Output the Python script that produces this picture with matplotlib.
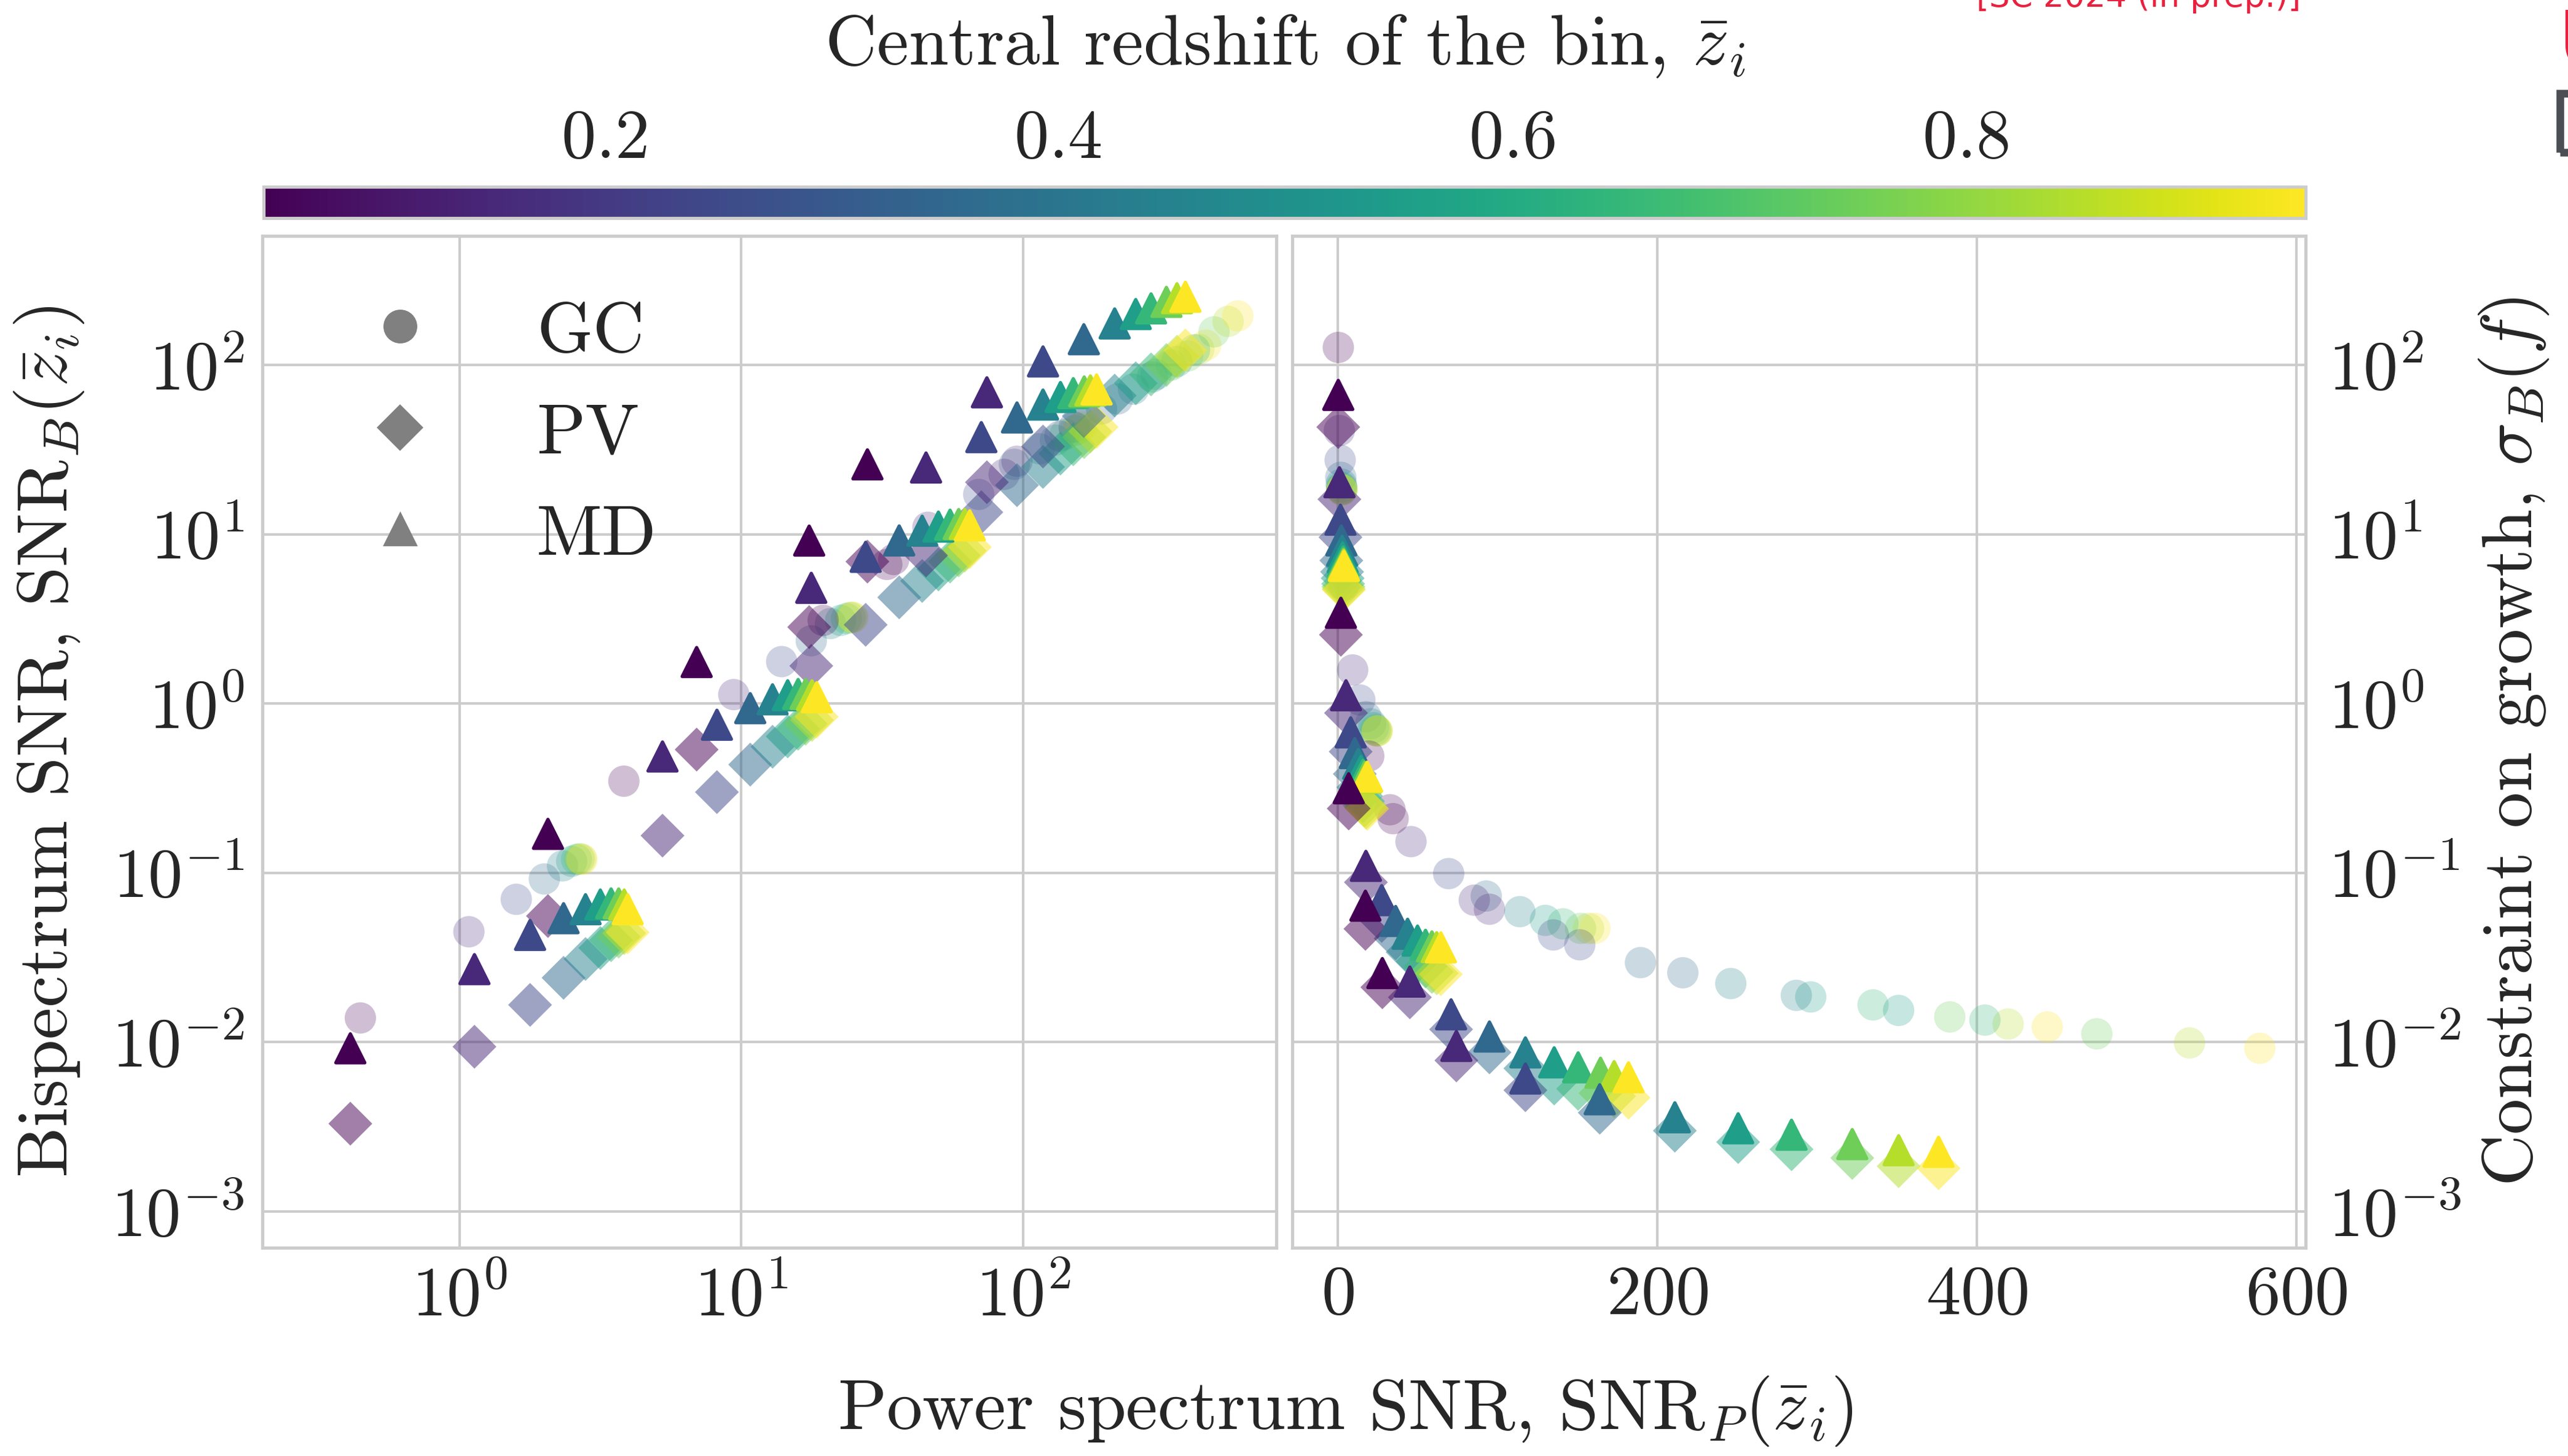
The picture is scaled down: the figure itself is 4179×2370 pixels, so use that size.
import matplotlib
matplotlib.use("Agg")
import matplotlib.pyplot as plt
import seaborn as sns
from matplotlib.colors import Normalize
from matplotlib.cm import ScalarMappable
from matplotlib.lines import Line2D
from matplotlib.patches import Rectangle
from matplotlib.ticker import NullLocator

# ---- data: five surveys, ten redshift bins each ----
z_bins = [0.05, 0.15, 0.25, 0.35, 0.45, 0.55, 0.65, 0.75, 0.85, 0.95]
tracers = ["GC", "PV", "MD"]

# power-spectrum SNR shared by the PV and MD samples
snr_p_vel = [
    [0.41, 1.13, 1.78, 2.34, 2.80, 3.16, 3.45, 3.67, 3.84, 3.95],
    [2.06, 5.25, 8.19, 10.75, 12.9, 14.6, 15.9, 16.9, 17.8, 18.5],
    [6.94, 17.7, 27.6, 36.3, 43.8, 50.0, 55.0, 59.0, 62.0, 64.6],
    [17.4, 45.2, 71.0, 95.0, 117.5, 135.5, 150.5, 164.5, 173.0, 182.0],
    [28.0, 74.3, 117.5, 164.0, 211.0, 250.6, 284.0, 322.0, 351.0, 376.0],
]
snr_b_md = [
    [0.0092, 0.027, 0.043, 0.054, 0.061, 0.065, 0.066, 0.066, 0.065, 0.061],
    [0.170, 0.487, 0.75, 0.94, 1.06, 1.12, 1.14, 1.14, 1.12, 1.09],
    [1.76, 4.83, 7.36, 9.2, 10.5, 11.1, 11.4, 11.5, 11.5, 11.3],
    [9.18, 24.8, 37.5, 49.0, 58.4, 64.7, 68.2, 69.8, 70.8, 71.7],
    [25.9, 69.0, 105.0, 142.0, 176.0, 200.0, 216.0, 236.0, 248.0, 253.0],
]
snr_b_pv = [
    [0.0033, 0.0094, 0.0166, 0.024, 0.031, 0.036, 0.040, 0.042, 0.044, 0.0445],
    [0.0556, 0.166, 0.30, 0.436, 0.556, 0.64, 0.71, 0.76, 0.80, 0.837],
    [0.535, 1.67, 2.92, 4.24, 5.3, 6.2, 6.9, 7.5, 8.0, 8.4],
    [2.83, 7.5, 13.5, 19.5, 25.0, 30.0, 34.0, 37.5, 40.5, 43.0],
    [6.9, 20.3, 33.0, 50.0, 66.0, 78.0, 88.0, 100.0, 112.0, 122.0],
]
sig_md = [
    [66.6, 20.3, 12.2, 9.2, 8.0, 7.3, 6.9, 6.7, 6.6, 6.5],
    [3.44, 1.12, 0.676, 0.51, 0.44, 0.40, 0.38, 0.37, 0.365, 0.37],
    [0.316, 0.110, 0.069, 0.052, 0.0437, 0.0398, 0.0376, 0.0368, 0.0364, 0.0363],
    [0.064, 0.0228, 0.0146, 0.0108, 0.0087, 0.0076, 0.0071, 0.0066, 0.0063, 0.0062],
    [0.0256, 0.0095, 0.0061, 0.0046, 0.0036, 0.0031, 0.00284, 0.0025, 0.0023, 0.00225],
]
sig_pv = [
    [43.0, 16.1, 9.6, 7.0, 6.0, 5.5, 5.1, 4.9, 4.75, 4.7],
    [2.55, 0.88, 0.52, 0.384, 0.32, 0.285, 0.265, 0.25, 0.243, 0.239],
    [0.24, 0.088, 0.052, 0.041, 0.034, 0.030, 0.028, 0.026, 0.0255, 0.0252],
    [0.0467, 0.0184, 0.0119, 0.0087, 0.0070, 0.0057, 0.0053, 0.0050, 0.0048, 0.0047],
    [0.0211, 0.0078, 0.0052, 0.00383, 0.0030, 0.00257, 0.00233, 0.00207, 0.00185, 0.0018],
]

# galaxy clustering sample
snr_p_gc = [
    [0.445, 1.08, 1.59, 2.0, 2.32, 2.5, 2.6, 2.66, 2.7, 2.72],
    [3.83, 9.4, 13.9, 17.7, 20.7, 22.5, 23.6, 24.3, 24.7, 24.9],
    [19.5, 45.9, 69.5, 93.0, 114.0, 130.0, 141.0, 152.0, 157.0, 161.0],
    [32.8, 85.5, 135.0, 189.5, 246.0, 296.0, 335.0, 383.0, 419.5, 444.0],
    [34.7, 95.0, 151.5, 216.0, 287.0, 351.0, 405.0, 475.0, 533.0, 577.0],
]
snr_b_gc = [
    [0.0139, 0.0449, 0.0698, 0.092, 0.110, 0.117, 0.120, 0.121, 0.121, 0.120],
    [0.348, 1.13, 1.77, 2.35, 2.97, 3.10, 3.18, 3.22, 3.24, 3.22],
    [3.1, 11.0, 17.2, 25.9, 32.0, 36.0, 39.0, 41.0, 42.0, 43.0],
    [6.64, 22.6, 38.0, 55.0, 72.0, 88.0, 100.0, 113.0, 124.0, 131.0],
    [7.1, 27.0, 43.0, 63.0, 85.0, 105.0, 123.0, 157.0, 181.0, 195.0],
]
sig_gc = [
    [127.0, 41.0, 27.4, 21.7, 19.8, 19.0, 18.6, 18.4, 18.3, 18.3],
    [5.0, 1.58, 1.05, 0.836, 0.76, 0.72, 0.70, 0.69, 0.69, 0.69],
    [0.49, 0.153, 0.099, 0.073, 0.059, 0.0524, 0.050, 0.047, 0.047, 0.047],
    [0.236, 0.069, 0.043, 0.0295, 0.0222, 0.0185, 0.0166, 0.0141, 0.0128, 0.0123],
    [0.209, 0.061, 0.0376, 0.0257, 0.0189, 0.0154, 0.0135, 0.0112, 0.0099, 0.0092],
]

# ---- style ----
sns.set_style("whitegrid")
plt.rcParams.update({
    "font.family": "serif",
    "font.serif": ["cmr10"],
    "mathtext.fontset": "cm",
    "axes.formatter.use_mathtext": True,
    "axes.edgecolor": "0.8",
    "axes.linewidth": 1.25,
    "grid.color": "0.8",
    "grid.linewidth": 1.0,
    "text.color": "0.15",
})
FS = 27
norm = Normalize(vmin=0.05, vmax=0.95)
cmap = "viridis"
MS = 150  # marker area, pt^2

fig = plt.figure(figsize=(4179 / 300, 2370 / 300), dpi=300)
ax_l = fig.add_axes([0.1022, 0.1430, 0.3948, 0.6949])
ax_r = fig.add_axes([0.5032, 0.1430, 0.3946, 0.6949], sharey=ax_l)
cax = fig.add_axes([0.1027, 0.8502, 0.7952, 0.0215])


def draw(ax, x_gc, y_gc, x_vel, y_pv, y_md):
    for k in range(len(x_gc)):
        ax.scatter(x_gc[k], y_gc[k], c=z_bins, cmap=cmap, norm=norm,
                   marker="o", s=MS, alpha=0.25, linewidths=0)
    for k in range(len(x_vel)):
        ax.scatter(x_vel[k], y_pv[k], c=z_bins, cmap=cmap, norm=norm,
                   marker="D", s=MS * 0.98, alpha=0.5, linewidths=0)
    for k in range(len(x_vel)):
        ax.scatter(x_vel[k], y_md[k], c=z_bins, cmap=cmap, norm=norm,
                   marker="^", s=MS * 0.85, alpha=1.0, linewidths=1.3,
                   edgecolors="face", joinstyle="round")


draw(ax_l, snr_p_gc, snr_b_gc, snr_p_vel, snr_b_pv, snr_b_md)
draw(ax_r, snr_p_gc, sig_gc, snr_p_vel, sig_pv, sig_md)

ax_l.set_xscale("log")
ax_l.set_yscale("log")
ax_l.set_xlim(0.2, 790)
ax_l.set_ylim(6.1e-4, 578)
ax_r.set_xlim(-28.4, 605.6)
ax_r.set_xticks([0, 200, 400, 600])
ax_l.xaxis.set_minor_locator(NullLocator())
ax_l.yaxis.set_minor_locator(NullLocator())
ax_l.set_yticks([1e-3, 1e-2, 1e-1, 1, 10, 100])

for ax in (ax_l, ax_r):
    ax.tick_params(length=0, labelsize=FS, pad=7)
    ax.grid(True, which="major")
ax_r.yaxis.tick_right()
ax_r.tick_params(axis="y", length=0, labelsize=FS, pad=9)

ax_l.set_ylabel(r"Bispectrum SNR, SNR$_B(\bar{z}_i)$", fontsize=FS + 1, labelpad=10)
ax_r.yaxis.set_label_position("right")
ax_r.set_ylabel(r"Constraint on growth, $\sigma_B(f)$", fontsize=FS + 1, labelpad=6)
fig.text(0.524, 0.031, r"Power spectrum SNR, SNR$_P(\bar{z}_i)$",
         ha="center", va="center", fontsize=FS + 1)

# colourbar for the central redshift
sm = ScalarMappable(norm=norm, cmap=cmap)
cbar = fig.colorbar(sm, cax=cax, orientation="horizontal", ticklocation="top")
cbar.set_ticks([0.2, 0.4, 0.6, 0.8])
cbar.outline.set_edgecolor("0.8")
cbar.outline.set_linewidth(1.25)
cax.tick_params(length=0, labelsize=FS, pad=6)
fig.text(0.5005, 0.9685, r"Central redshift of the bin, $\bar{z}_i$",
         ha="center", va="center", fontsize=FS + 1)

# legend for the three tracers
handles = [
    Line2D([], [], ls="", marker="o", color="gray", markersize=12.2),
    Line2D([], [], ls="", marker="D", color="gray", markersize=12.0),
    Line2D([], [], ls="", marker="^", color="gray", markersize=11.3,
           markeredgewidth=1.3),
]
ax_l.legend(handles, tracers, loc="upper left", bbox_to_anchor=(0.037, 0.964),
            borderaxespad=0, frameon=False, fontsize=FS + 1,
            handlelength=2.0, handletextpad=0.9, labelspacing=0.53)

# slide furniture along the top edge
fig.text(0.896, 0.9954, "[SC 2024 (in prep.)]", ha="right", va="baseline",
         fontsize=12.8, color="#e8213f", family="DejaVu Sans")
fig.text(4163 / 4179, 1 - 107 / 2370, "U", ha="left", va="baseline",
         fontsize=30, color="#e8213f", family="DejaVu Sans")
fig.patches.append(Rectangle((4166 / 4179, 1 - 248 / 2370), 0.03, 96 / 2370,
                             transform=fig.transFigure, fill=False,
                             edgecolor="#4b4f54", linewidth=3))

fig.savefig("out.png", dpi=300)
